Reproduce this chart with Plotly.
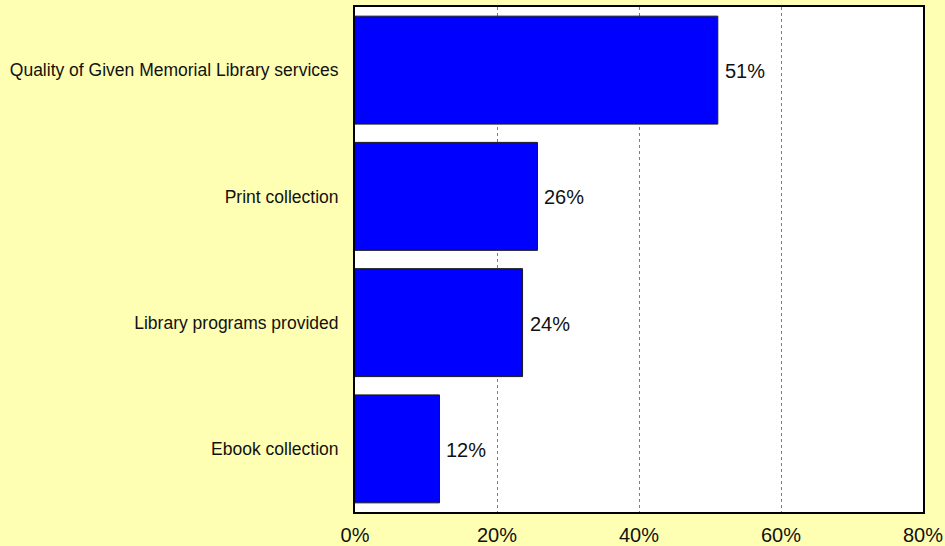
import plotly.graph_objects as go

categories = ["Quality of Given Memorial Library services", "Print collection",
              "Library programs provided", "Ebook collection"]
values = [51.1, 25.7, 23.6, 11.9]
value_labels = ["51%", "26%", "24%", "12%"]
tick_vals = [0, 20, 40, 60, 80]
tick_text = ["0%", "20%", "40%", "60%", "80%"]

FONT = "Arial, Liberation Sans, sans-serif"

fig = go.Figure()
fig.add_trace(go.Bar(
    y=categories, x=values, orientation="h",
    marker=dict(color="#0000FF", line=dict(color="#1a1a1a", width=1)),
    width=0.855, hoverinfo="skip",
))

for c, v, t in zip(categories, values, value_labels):
    fig.add_annotation(x=v, y=c, text=t, showarrow=False, xanchor="left",
                       xshift=5, yshift=-1, font=dict(family=FONT, size=20, color="#111111"))

fig.update_layout(
    width=945, height=546,
    paper_bgcolor="#FFFFB3", plot_bgcolor="#FFFFFF",
    margin=dict(l=355, r=22, t=7, b=34),
    showlegend=False,
    font=dict(family=FONT, color="#111111"),
    xaxis=dict(range=[0, 80], tickvals=tick_vals, ticktext=tick_text,
               showgrid=True, gridcolor="#808080", griddash="dot", gridwidth=1,
               showline=True, linecolor="black", linewidth=2, mirror=True,
               ticks="", tickfont=dict(size=20), zeroline=False, fixedrange=True,
               automargin=False, ticklabelstandoff=4),
    yaxis=dict(categoryorder="array", categoryarray=categories[::-1],
               showline=True, linecolor="black", linewidth=2, mirror=True,
               ticks="", ticklabelstandoff=11, tickfont=dict(size=17.5), showgrid=False,
               range=[-0.5, 3.5], automargin=False, fixedrange=True),
)

fig.write_html("out.html", config={"displayModeBar": False},
               post_script="document.body.style.margin='0';document.body.style.overflow='hidden';")
